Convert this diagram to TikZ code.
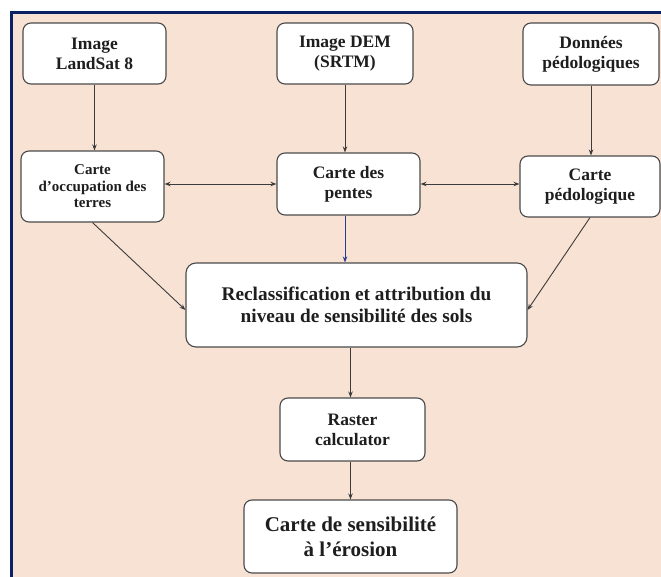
\documentclass[tikz,border=0pt]{standalone}
\usepackage{fontspec}
\setmainfont{Liberation Serif}
\usetikzlibrary{arrows.meta}
\definecolor{peach}{HTML}{F8E2D4}
\definecolor{navy}{HTML}{0B2364}
\definecolor{boxline}{HTML}{4A4A4A}
\definecolor{txt}{HTML}{1E1E1E}
\definecolor{bluearr}{HTML}{2A3C8C}
\begin{document}
\begin{tikzpicture}[x=1pt,y=-1pt,
  box/.style={draw=boxline, fill=white, rounded corners=8pt, line width=1.1pt,
    align=center, inner sep=0pt, text=txt, font=\fontsize{17.5}{20}\selectfont\bfseries},
  arr/.style={draw=boxline!80!black, line width=0.9pt, -{Stealth[length=6pt,width=4.5pt]}},
  darr/.style={draw=boxline!80!black, line width=0.9pt, {Stealth[length=6pt,width=4.5pt]}-{Stealth[length=6pt,width=4.5pt]}}]
\useasboundingbox (0,0) rectangle (661,577);
\fill[white] (0,0) rectangle (661,577);
\fill[peach] (11,11) rectangle (661,577);
\draw[navy, line width=3pt] (11.5,577) -- (11.5,12.5) -- (661,12.5);

\node[box, minimum width=143pt, minimum height=61pt] (land) at (94.5,53.5) {Image\\LandSat 8};
\node[box, minimum width=136pt, minimum height=61pt] (dem) at (345,53.5) {Image DEM\\(SRTM)};
\node[box, minimum width=136pt, minimum height=62pt] (don) at (591,54) {Données\\pédologiques};
\node[box, minimum width=143pt, minimum height=71pt, font=\fontsize{15}{16.5}\selectfont\bfseries] (occ) at (92.5,186.5) {Carte\\d'occupation des\\terres};
\node[box, minimum width=143pt, minimum height=62pt] (pen) at (348.5,184) {Carte des\\pentes};
\node[box, minimum width=140pt, minimum height=61pt] (ped) at (590,186.5) {Carte\\pédologique};
\node[box, minimum width=341pt, minimum height=84pt, rounded corners=10pt, font=\fontsize{19.3}{22}\selectfont\bfseries] (rec) at (356.5,305) {Reclassification et attribution du\\niveau de sensibilité des sols};
\node[box, minimum width=145pt, minimum height=63pt] (ras) at (352.5,429.5) {Raster\\calculator};
\node[box, minimum width=213pt, minimum height=73pt, font=\fontsize{21}{25}\selectfont\bfseries] (sen) at (350.5,536.5) {Carte de sensibilité\\à l’érosion};

\draw[arr] (land.south) -- (land.south |- occ.north);
\draw[arr] (dem.south) -- (dem.south |- pen.north);
\draw[arr] (don.south) -- (don.south |- ped.north);
\draw[darr] (occ.east |- pen.west) -- (pen.west);
\draw[darr] (pen.east) -- (ped.west |- pen.east);
\draw[arr, draw=bluearr] (dem.south |- pen.south) -- (dem.south |- rec.north);
\draw[arr] (occ.south) -- ([yshift=-5pt]rec.west);
\draw[arr] (ped.south) -- ([yshift=-5pt]rec.east);
\draw[arr] ([xshift=-2pt]ras.north |- rec.south) -- ([xshift=-2pt]ras.north);
\draw[arr] ([xshift=-2pt]ras.south) -- ([xshift=-2pt]ras.south |- sen.north);
\end{tikzpicture}
\end{document}
